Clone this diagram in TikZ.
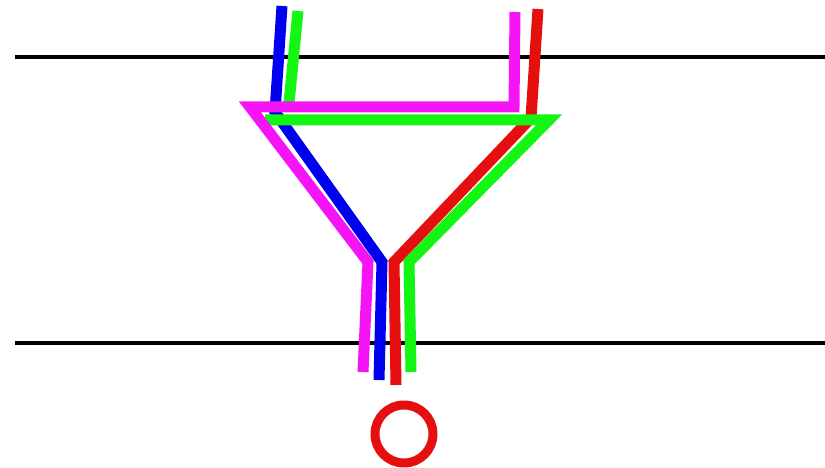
\documentclass[tikz,border=0pt]{standalone}
\begin{document}
\begin{tikzpicture}[x=1pt,y=-1pt,
  wire/.style={line width=11pt,line join=miter,line cap=butt},
  staff/.style={line width=3.4pt,black}]
\useasboundingbox (0,0) rectangle (825,468);
\fill[white] (0,0) rectangle (825,468);
% staff lines
\draw[staff] (15,57) -- (825,57);
\draw[staff] (15,343) -- (825,343);
% blue
\draw[wire,color={rgb,255:red,0;green,0;blue,240}] (282,6) -- (275,112) -- (382,262) -- (379,380);
% red
\draw[wire,color={rgb,255:red,230;green,15;blue,15}] (538,9) -- (531,118) -- (394,262) -- (396,385);
% green
\draw[wire,color={rgb,255:red,20;green,245;blue,20}] (298,11) -- (289,103);
\draw[wire,color={rgb,255:red,20;green,245;blue,20}] (265,120) -- (549,120) -- (409,262) -- (411,372);
% magenta
\draw[wire,color={rgb,255:red,245;green,20;blue,245}] (515,12) -- (514,107) -- (250,107) -- (368,262) -- (363,372);
% red circle
\draw[line width=9pt,color={rgb,255:red,230;green,15;blue,15}] (404,434) circle (29);
\end{tikzpicture}
\end{document}
